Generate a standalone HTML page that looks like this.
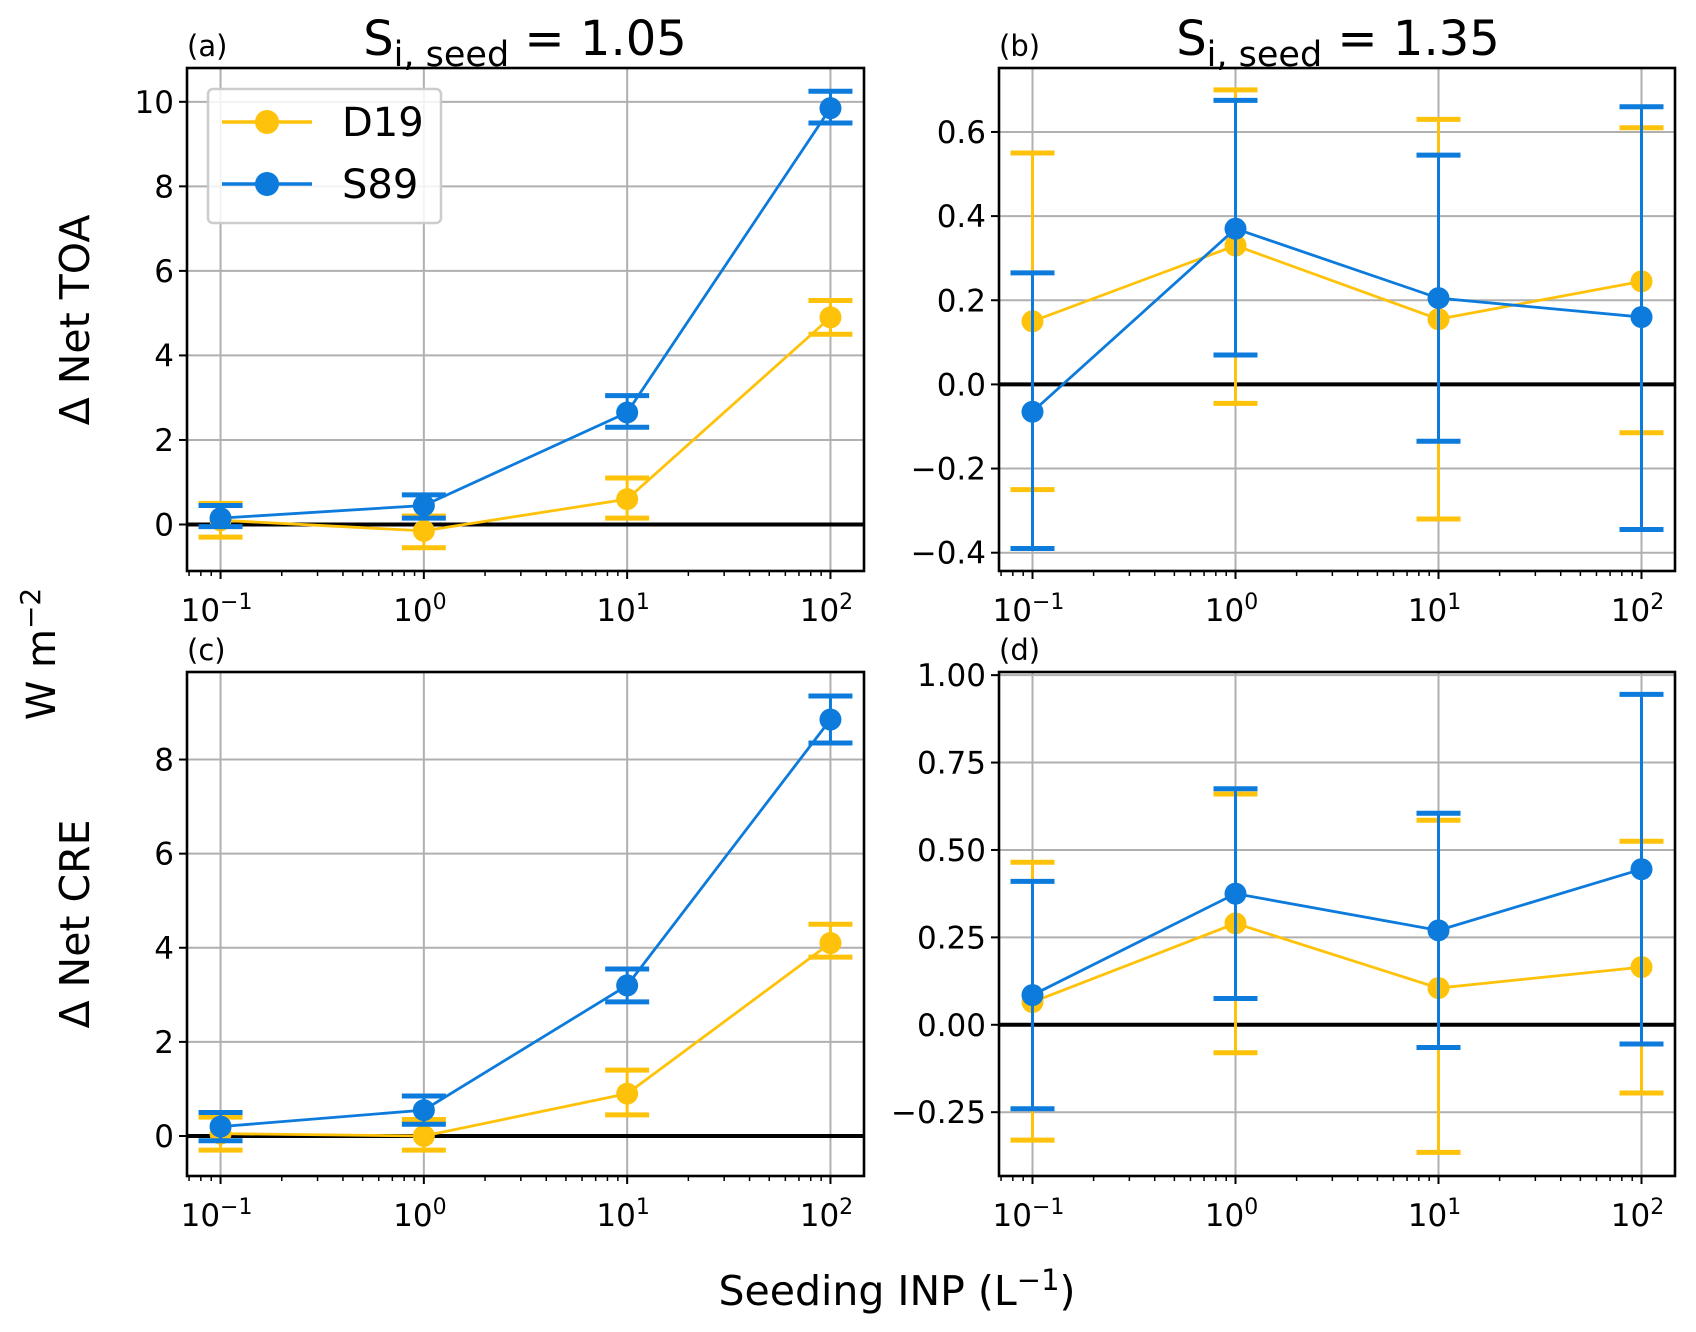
<!DOCTYPE html>
<html><head><meta charset="utf-8"><style>
html,body{margin:0;padding:0;background:#fff}
svg{display:block;font-family:"DejaVu Sans","Liberation Sans",sans-serif}
</style></head><body>
<svg id="fig" width="1696" height="1332" viewBox="0 0 1696 1332" xmlns="http://www.w3.org/2000/svg"></svg>
<script>
const xValues=[0.1,1,10,100];
const seriesNames=["D19","S89"];
const aD19=[0.1,-0.15,0.6,4.9], aD19Lo=[-0.3,-0.55,0.15,4.5], aD19Hi=[0.5,0.2,1.1,5.3];
const aS89=[0.15,0.45,2.65,9.85], aS89Lo=[-0.05,0.15,2.3,9.5], aS89Hi=[0.45,0.7,3.05,10.25];
const bD19=[0.15,0.33,0.155,0.245], bD19Lo=[-0.25,-0.045,-0.32,-0.115], bD19Hi=[0.55,0.70,0.63,0.61];
const bS89=[-0.065,0.37,0.205,0.16], bS89Lo=[-0.39,0.07,-0.135,-0.345], bS89Hi=[0.265,0.675,0.545,0.66];
const cD19=[0.05,0.0,0.9,4.1], cD19Lo=[-0.3,-0.3,0.45,3.8], cD19Hi=[0.4,0.35,1.4,4.5];
const cS89=[0.2,0.55,3.2,8.85], cS89Lo=[-0.1,0.25,2.85,8.35], cS89Hi=[0.5,0.85,3.55,9.35];
const dD19=[0.065,0.29,0.105,0.165], dD19Lo=[-0.33,-0.08,-0.365,-0.195], dD19Hi=[0.465,0.66,0.585,0.525];
const dS89=[0.085,0.375,0.27,0.445], dS89Lo=[-0.24,0.075,-0.065,-0.055], dS89Hi=[0.41,0.675,0.605,0.945];
const aTicks=[0,2,4,6,8,10], bTicks=[-0.4,-0.2,0.0,0.2,0.4,0.6];
const cTicks=[0,2,4,6,8], dTicks=[-0.25,0.00,0.25,0.50,0.75,1.00];
const xTickExp=[-1,0,1,2];

const YEL="#ffc20a", BLU="#0c7bdc";
const svg=document.getElementById('fig');
const NS="http://www.w3.org/2000/svg";
function mk(tag,attrs,parent){const e=document.createElementNS(NS,tag);for(const k in attrs)e.setAttribute(k,attrs[k]);(parent||svg).appendChild(e);return e;}

const panels=[
 {id:"a",L:187,R:864,T:68,B:571,ymin:-1.1,ymax:10.8,ticks:aTicks,fmt:v=>v.toFixed(0),s:[[aD19,aD19Lo,aD19Hi],[aS89,aS89Lo,aS89Hi]]},
 {id:"b",L:999,R:1675,T:68,B:571,ymin:-0.4435,ymax:0.752,ticks:bTicks,fmt:v=>(v<0?"\u2212":"")+Math.abs(v).toFixed(1),s:[[bD19,bD19Lo,bD19Hi],[bS89,bS89Lo,bS89Hi]]},
 {id:"c",L:187,R:864,T:672,B:1176,ymin:-0.85,ymax:9.86,ticks:cTicks,fmt:v=>v.toFixed(0),s:[[cD19,cD19Lo,cD19Hi],[cS89,cS89Lo,cS89Hi]]},
 {id:"d",L:999,R:1675,T:672,B:1176,ymin:-0.4325,ymax:1.009,ticks:dTicks,fmt:v=>(v<0?"\u2212":"")+Math.abs(v).toFixed(2),s:[[dD19,dD19Lo,dD19Hi],[dS89,dS89Lo,dS89Hi]]}
];
const lxmin=-1.165,lxmax=2.165;
panels.forEach(p=>{
 const g=mk('g',{});
 
 
 const X=v=>p.L+(Math.log10(v)-lxmin)/(lxmax-lxmin)*(p.R-p.L);
 const Y=v=>p.B-(v-p.ymin)/(p.ymax-p.ymin)*(p.B-p.T);
 xTickExp.forEach(e=>{mk('line',{x1:X(Math.pow(10,e)),x2:X(Math.pow(10,e)),y1:p.T,y2:p.B,stroke:"#b0b0b0","stroke-width":2},g);});
 p.ticks.forEach(t=>{mk('line',{x1:p.L,x2:p.R,y1:Y(t),y2:Y(t),stroke:"#b0b0b0","stroke-width":2},g);});
 const z=mk('line',{x1:p.L,x2:p.R,y1:Y(0),y2:Y(0),stroke:"#000","stroke-width":4},g);
 
 
 p.s.forEach((s,si)=>{
  const col=si==0?YEL:BLU;
  const sg=mk('g',{},g);
  
  
  const [v,lo,hi]=s;
  xValues.forEach((x,i)=>{
   const eb=mk('g',{},sg);
   
   
   mk('line',{x1:X(x),x2:X(x),y1:Y(lo[i]),y2:Y(hi[i]),stroke:col,"stroke-width":3},eb);
   mk('line',{x1:X(x)-22,x2:X(x)+22,y1:Y(lo[i]),y2:Y(lo[i]),stroke:col,"stroke-width":5},eb);
   mk('line',{x1:X(x)-22,x2:X(x)+22,y1:Y(hi[i]),y2:Y(hi[i]),stroke:col,"stroke-width":5},eb);
  });
  mk('polyline',{points:xValues.map((x,i)=>X(x)+","+Y(v[i])).join(" "),fill:"none",stroke:col,"stroke-width":2.8},sg);
  xValues.forEach((x,i)=>{
   const c=mk('circle',{cx:X(x),cy:Y(v[i]),r:11,fill:col},sg);
   
   
  });
 });
 mk('rect',{x:p.L,y:p.T,width:p.R-p.L,height:p.B-p.T,fill:"none",stroke:"#000","stroke-width":2.6},g);
 p.ticks.forEach(t=>{
  mk('line',{x1:p.L-8,x2:p.L,y1:Y(t),y2:Y(t),stroke:"#000","stroke-width":2},g);
  const tx=mk('text',{x:p.L-13,y:Y(t)+11,"text-anchor":"end","font-size":31},g);
  tx.textContent=p.fmt(t);
  
  
 });
 for(let e=-2;e<=2;e++){for(let m=1;m<10;m++){const v=m*Math.pow(10,e);const lv=Math.log10(v);if(lv<lxmin||lv>lxmax)continue;
  mk('line',{x1:X(v),x2:X(v),y1:p.B,y2:p.B+(m==1?8:5),stroke:"#000","stroke-width":m==1?2:1.5},g);}}
 xTickExp.forEach(e=>{
  const tx=mk('text',{x:X(Math.pow(10,e))-4,y:p.B+50,"text-anchor":"middle","font-size":31},g);
  
  
  tx.appendChild(document.createTextNode("10"));
  const sp=mk('tspan',{dy:-12,"font-size":22},tx);sp.textContent=(e<0?"\u2212":"")+Math.abs(e);
 });
 const lab=mk('text',{x:p.L,y:p.T-12,"font-size":29},g);
 lab.textContent="("+p.id+")";
 
 
});
function txt(name,x,y,size,content,attrs){const t=mk('text',Object.assign({x:x,y:y,"font-size":size,"text-anchor":"middle"},attrs||{}));t.innerHTML=content;return t;}
txt('title-left',525,55,48,'S<tspan dy="11" font-size="35">i, seed</tspan><tspan dy="-11"> = 1.05</tspan>');
txt('title-right',1338,55,48,'S<tspan dy="11" font-size="35">i, seed</tspan><tspan dy="-11"> = 1.35</tspan>');
txt('y-axis-title-toa',89,320,41,'\u0394 Net TOA',{transform:"rotate(-90 89 320)"});
txt('y-axis-title-cre',89,924,41,'\u0394 Net CRE',{transform:"rotate(-90 89 924)"});
txt('y-axis-units',55,654,40,'W m<tspan dy="-15" font-size="28">\u22122</tspan>',{transform:"rotate(-90 55 654)"});
txt('x-axis-title',897,1305,41,'Seeding INP (L<tspan dy="-15" font-size="29">\u22121</tspan><tspan dy="15">)</tspan>');
const lg=mk('g',{});


mk('rect',{x:208,y:89,width:233,height:134,rx:5,fill:"#fff","fill-opacity":0.85,stroke:"#ccc","stroke-width":2.5},lg);
[[YEL,"D19",122],[BLU,"S89",184]].forEach(([c,n,y])=>{
 const e=mk('g',{},lg);
 
 
 mk('line',{x1:222,x2:312,y1:y,y2:y,stroke:c,"stroke-width":3.5},e);
 mk('circle',{cx:267,cy:y,r:12,fill:c},e);
 const t=mk('text',{x:342,y:y+14,"font-size":40},e);t.textContent=n;
});
</script>
</body></html>
